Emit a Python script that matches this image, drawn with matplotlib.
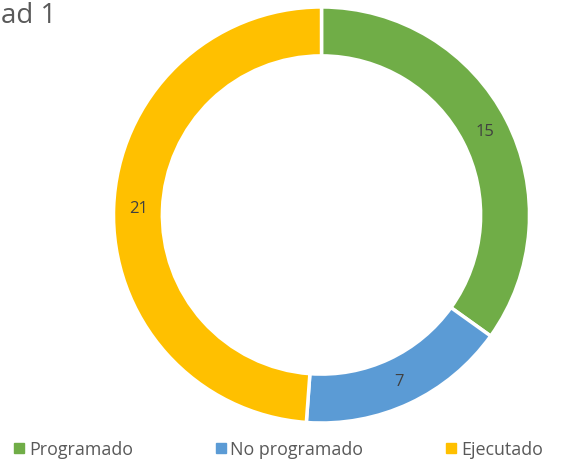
import matplotlib.pyplot as plt
from matplotlib.lines import Line2D

labels = ['Programado', 'No programado', 'Ejecutado']
values = [15, 7, 21]
colors = ['#70AD47', '#5B9BD5', '#FFC000']
title = 'ad 1'  # only the end of the title is visible in the source

plt.rcParams['font.family'] = ['Open Sans', 'DejaVu Sans']

fig = plt.figure(figsize=(5.75, 4.64), dpi=100)
ax = fig.add_axes([0.1974, 0.0862, 0.7235, 0.8966])

wedges, texts, autotexts = ax.pie(
    values, colors=colors, startangle=90, counterclock=False,
    radius=1, autopct=lambda p: f'{p * sum(values) / 100:.0f}',
    pctdistance=0.882,
    wedgeprops=dict(width=0.235, edgecolor='white', linewidth=2.5),
    textprops=dict(color='#404040', fontsize=12))
ax.set_xlim(-1, 1)
ax.set_ylim(-1, 1)
ax.set_aspect('equal')
ax.axis('off')

fig.text(1 / 575, 1 - 16 / 464, title, ha='left', va='center',
         fontsize=20, color='#595959')

handles = [Line2D([], [], marker='s', linestyle='none', markersize=7,
                  markerfacecolor=c, markeredgecolor=c) for c in colors]
fig.legend(handles, labels, loc='center left', bbox_to_anchor=(10 / 575, 1 - 450 / 464),
           ncol=3, frameon=False, fontsize=12.9, labelcolor='#595959',
           handletextpad=0.05, columnspacing=4.4, handlelength=1,
           borderaxespad=0, borderpad=0)

fig.savefig('out.png', dpi=100)
